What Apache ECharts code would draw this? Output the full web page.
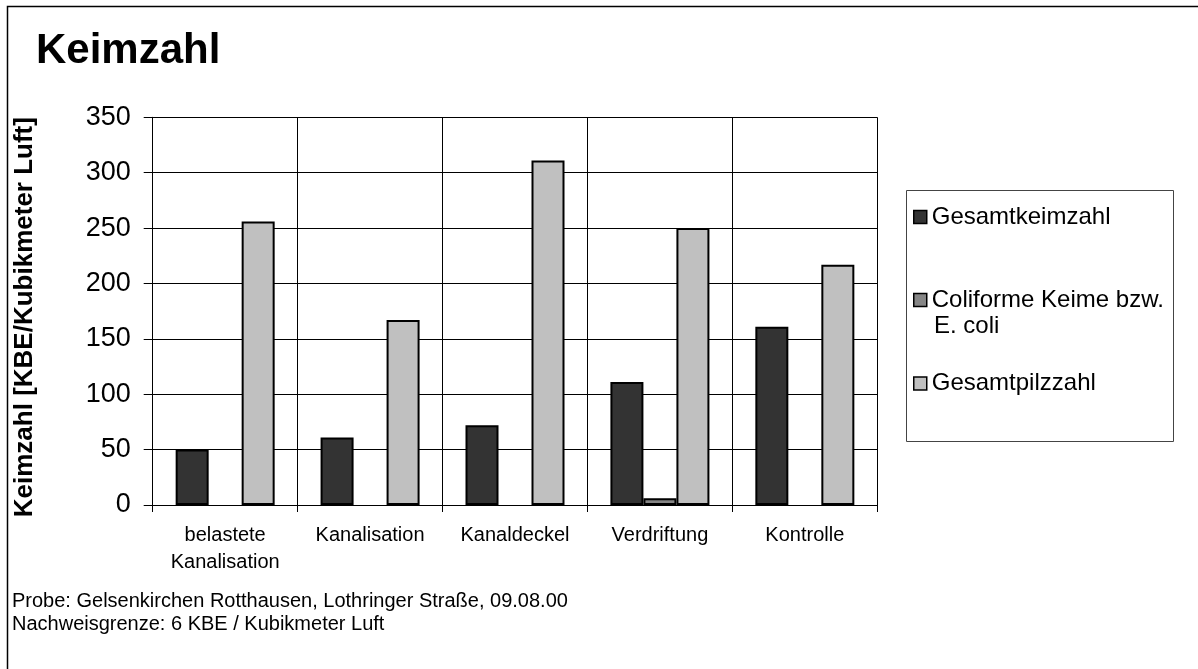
<!DOCTYPE html>
<html>
<head>
<meta charset="utf-8">
<script src="https://cdn.jsdelivr.net/npm/echarts@6/dist/echarts.min.js"></script>
<style>
html,body{margin:0;padding:0;background:#fff;}
#c{width:1198px;height:669px;}
</style>
</head>
<body>
<div id="c"></div>
<script>
var categories = ['belastete\nKanalisation', 'Kanalisation', 'Kanaldeckel', 'Verdriftung', 'Kontrolle'];
var gesamtkeimzahl = [50, 61, 72, 111, 161];
var coliforme = [null, null, null, 6, null];
var gesamtpilzzahl = [256, 167, 311, 250, 217];
var yTicks = { min: 0, max: 350, interval: 50 };
var seriesNames = ['Gesamtkeimzahl', 'Coliforme Keime bzw. E. coli', 'Gesamtpilzzahl'];
var titleText = 'Keimzahl';
var yAxisName = 'Keimzahl [KBE/Kubikmeter Luft]';
var footnotes = ['Probe: Gelsenkirchen Rotthausen, Lothringer Straße, 09.08.00', 'Nachweisgrenze: 6 KBE / Kubikmeter Luft'];

var FONT = "'Liberation Sans', Arial, sans-serif";
var chart = echarts.init(document.getElementById('c'), null, {renderer: 'canvas'});

function barSeries(name, data, color) {
  return {
    name: name, type: 'bar', data: data,
    barWidth: 33, barGap: '0%',
    itemStyle: { color: color, borderColor: '#000', borderWidth: 2 },
    emphasis: { disabled: true },
    animation: false
  };
}
function legendItem(name, top, label) {
  return {
    data: [name], left: 913, top: top, padding: 0,
    orient: 'vertical', icon: 'rect', itemWidth: 13, itemHeight: 13,
    selectedMode: false,
    formatter: label ? function () { return label; } : '{name}',
    textStyle: { fontFamily: FONT, fontSize: 24, color: '#000' },
    itemStyle: { borderColor: '#000', borderWidth: 1.5 }
  };
}

chart.setOption({
  backgroundColor: '#fff',
  animation: false,
  title: {
    text: titleText, left: 36, top: 30, padding: 0,
    textStyle: { fontFamily: FONT, fontSize: 42, fontWeight: 'bold', color: '#000' }
  },
  grid: { left: 152.7, right: 320.7, top: 117.3, bottom: 164, containLabel: false },
  legend: [
    legendItem(seriesNames[0], 205),
    legendItem(seriesNames[1], 288, 'Coliforme Keime bzw.'),
    legendItem(seriesNames[2], 371.5)
  ],
  xAxis: {
    type: 'category', data: categories, boundaryGap: true,
    axisLine: { lineStyle: { color: '#000', width: 1 } },
    axisTick: { show: true, length: 7, lineStyle: { color: '#000' } },
    splitLine: { show: true, lineStyle: { color: '#000', width: 1 } },
    axisLabel: { interval: 0, margin: 17, fontFamily: FONT, fontSize: 20, color: '#000', lineHeight: 27 }
  },
  yAxis: {
    type: 'value', min: yTicks.min, max: yTicks.max, interval: yTicks.interval,
    name: yAxisName, nameLocation: 'middle', nameRotate: 90, nameGap: 115,
    nameTextStyle: { fontFamily: FONT, fontSize: 26, fontWeight: 'bold', color: '#000', padding: [0, 12, 0, 0] },
    axisLine: { show: true, lineStyle: { color: '#000', width: 1 } },
    axisTick: { show: true, length: 9, lineStyle: { color: '#000' } },
    splitLine: { show: true, lineStyle: { color: '#000', width: 1 } },
    axisLabel: { margin: 22, fontFamily: FONT, fontSize: 27, color: '#000' }
  },
  series: [
    barSeries(seriesNames[0], gesamtkeimzahl, '#333333'),
    barSeries(seriesNames[1], coliforme, '#868686'),
    barSeries(seriesNames[2], gesamtpilzzahl, '#c0c0c0')
  ],
  graphic: [
    { type: 'rect', shape: { x: 7.5, y: 6.5, width: 1200, height: 700 }, style: { fill: null, stroke: '#000', lineWidth: 1.5 }, silent: true, z: 100 },
    { type: 'rect', shape: { x: 906.5, y: 190.5, width: 267, height: 251 }, style: { fill: null, stroke: '#444', lineWidth: 1 }, silent: true },
    { type: 'text', x: 934, y: 326, style: { text: 'E. coli', font: '24px ' + FONT, fill: '#000', verticalAlign: 'middle' }, silent: true },
    { type: 'text', x: 12, y: 601, style: { text: footnotes[0], font: '20px ' + FONT, fill: '#000', verticalAlign: 'middle' }, silent: true },
    { type: 'text', x: 12, y: 624, style: { text: footnotes[1], font: '20px ' + FONT, fill: '#000', verticalAlign: 'middle' }, silent: true }
  ]
});
</script>
</body>
</html>
